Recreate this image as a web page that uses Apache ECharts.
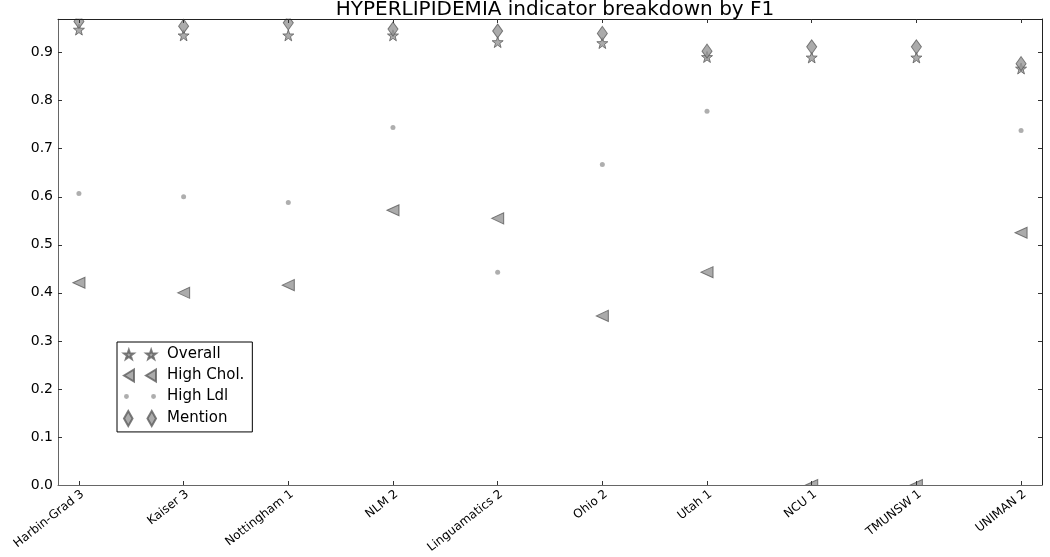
<!DOCTYPE html>
<html>
<head>
<meta charset="utf-8">
<script src="https://cdn.jsdelivr.net/npm/echarts@6/dist/echarts.min.js"></script>
<style>
  html, body { margin: 0; padding: 0; background: #fff; }
  #chart { width: 1050px; height: 557px; }
</style>
</head>
<body>
<div id="chart"></div>
<script>
  // data
  const categories = ['Harbin-Grad 3', 'Kaiser 3', 'Nottingham 1', 'NLM 2', 'Linguamatics 2',
    'Ohio 2', 'Utah 1', 'NCU 1', 'TMUNSW 1', 'UNIMAN 2']
  const overall = [0.948, 0.936, 0.936, 0.936, 0.922, 0.920, 0.891, 0.890, 0.890, 0.867]
  const highChol = [0.421, 0.400, 0.416, 0.572, 0.555, 0.352, 0.443, 0, 0, 0.525]
  const highLdl = [0.607, 0.600, 0.588, 0.744, 0.443, 0.667, 0.778, null, null, 0.738]
  const mention = [0.965, 0.955, 0.962, 0.949, 0.945, 0.940, 0.903, 0.912, 0.912, 0.877]
  const yTicks = [0, 0.1, 0.2, 0.3, 0.4, 0.5, 0.6, 0.7, 0.8, 0.9]

  const catIdx = categories.map((c, i) => i)
  const toPoints = arr => arr.map((v, i) => [i, v])

  const FONT = 'DejaVu Sans'
  const fill = '#969696'
  const edge = '#5c5c5c'

  // marker shapes
  const star = 'M0,-10 L2.35,-3.24 L9.51,-3.09 L3.8,1.24 L5.88,8.09 L0,4 L-5.88,8.09 L-3.8,1.24 L-9.51,-3.09 L-2.35,-3.24 Z'
  const starPair = star + ' ' + star.replace(/(-?[\d.]+),(-?[\d.]+)/g, (m, x, y) => (parseFloat(x) + 44) + ',' + y)
  const triPair = 'M-5,0 L5,-6 L5,6 Z M17,0 L27,-6 L27,6 Z'
  const dotPair = 'M-2,0 A2,2 0 1,0 2,0 A2,2 0 1,0 -2,0 Z M20,0 A2,2 0 1,0 24,0 A2,2 0 1,0 20,0 Z'
  const diaPair = 'M0,-7 L4,0 L0,7 L-4,0 Z M22,-7 L26,0 L22,7 L18,0 Z'

  const frameAxis = (color) => ({ show: true, onZero: false, lineStyle: { color: color, width: 1 } })
  const innerTicks = (vals) => ({ inside: true, length: 4, customValues: vals, lineStyle: { color: '#333' } })

  const chart = echarts.init(document.getElementById('chart'))
  const option = {
    animation: false,
    backgroundColor: '#fff',
    title: {
      text: 'HYPERLIPIDEMIA indicator breakdown by F1',
      left: 550,
      textAlign: 'center',
      top: -5,
      textStyle: { fontFamily: FONT, fontSize: 20, fontWeight: 'normal', color: '#000' }
    },
    legend: {
      orient: 'vertical',
      left: 117,
      top: 342,
      padding: [5, 8, 5, 6],
      itemGap: 6,
      itemWidth: 32,
      itemHeight: 15,
      borderColor: '#000',
      borderWidth: 1,
      borderRadius: 0,
      textStyle: { fontFamily: FONT, fontSize: 15, color: '#000', padding: [0, 0, 0, 6] },
      data: [
        { name: 'Overall', icon: 'path://' + starPair },
        { name: 'High Chol.', icon: 'path://' + triPair },
        { name: 'High Ldl', icon: 'path://' + dotPair },
        { name: 'Mention', icon: 'path://' + diaPair }
      ]
    },
    grid: { left: 58, right: 8, top: 19, bottom: 72, outerBoundsMode: 'none' },
    xAxis: [
      {
        type: 'value',
        min: -0.2,
        max: 9.2,
        z: 6,
        axisLine: frameAxis('#666'),
        axisTick: innerTicks(catIdx),
        axisLabel: {
          customValues: catIdx,
          rotate: 38,
          margin: 3,
          align: 'right',
          verticalAlign: 'top',
          fontFamily: FONT,
          fontSize: 12,
          color: '#000',
          formatter: v => categories[Math.round(v)] || ''
        },
        splitLine: { show: false }
      },
      {
        type: 'value',
        position: 'top',
        min: -0.2,
        max: 9.2,
        z: 6,
        axisLine: frameAxis('#222'),
        axisTick: innerTicks(catIdx),
        axisLabel: { show: false },
        splitLine: { show: false }
      }
    ],
    yAxis: [
      {
        type: 'value',
        min: 0,
        max: 0.97,
        axisLine: frameAxis('#666'),
        axisTick: innerTicks(yTicks),
        axisLabel: {
          customValues: yTicks,
          margin: 5,
          fontFamily: FONT,
          fontSize: 14,
          color: '#000',
          formatter: v => v.toFixed(1)
        },
        splitLine: { show: false }
      },
      {
        type: 'value',
        position: 'right',
        min: 0,
        max: 0.97,
        axisLine: frameAxis('#222'),
        axisTick: innerTicks(yTicks),
        axisLabel: { show: false },
        splitLine: { show: false }
      }
    ],
    // white strips just outside the plot frame, so markers sitting on the edges look clipped
    graphic: [
      { type: 'rect', z: 5, silent: true, shape: { x: 58, y: 485.6, width: 984, height: 7 }, style: { fill: '#fff' } },
      { type: 'rect', z: 5, silent: true, shape: { x: 58, y: 8, width: 984, height: 10.4 }, style: { fill: '#fff' } }
    ],
    series: [
      {
        name: 'Overall',
        type: 'scatter',
        symbol: 'path://' + star,
        symbolSize: 11,
        itemStyle: { color: fill, borderColor: edge, borderWidth: 1 },
        data: toPoints(overall)
      },
      {
        name: 'High Chol.',
        type: 'scatter',
        symbol: 'triangle',
        symbolRotate: 90,
        symbolSize: [11, 12],
        itemStyle: { color: fill, borderColor: edge, borderWidth: 1 },
        data: toPoints(highChol)
      },
      {
        name: 'High Ldl',
        type: 'scatter',
        symbol: 'circle',
        symbolSize: 5,
        itemStyle: { color: '#9a9a9a' },
        data: toPoints(highLdl)
      },
      {
        name: 'Mention',
        type: 'scatter',
        symbol: 'diamond',
        symbolSize: [10, 14],
        itemStyle: { color: fill, borderColor: edge, borderWidth: 1 },
        data: toPoints(mention)
      }
    ]
  }
  chart.setOption(option)
</script>
</body>
</html>
